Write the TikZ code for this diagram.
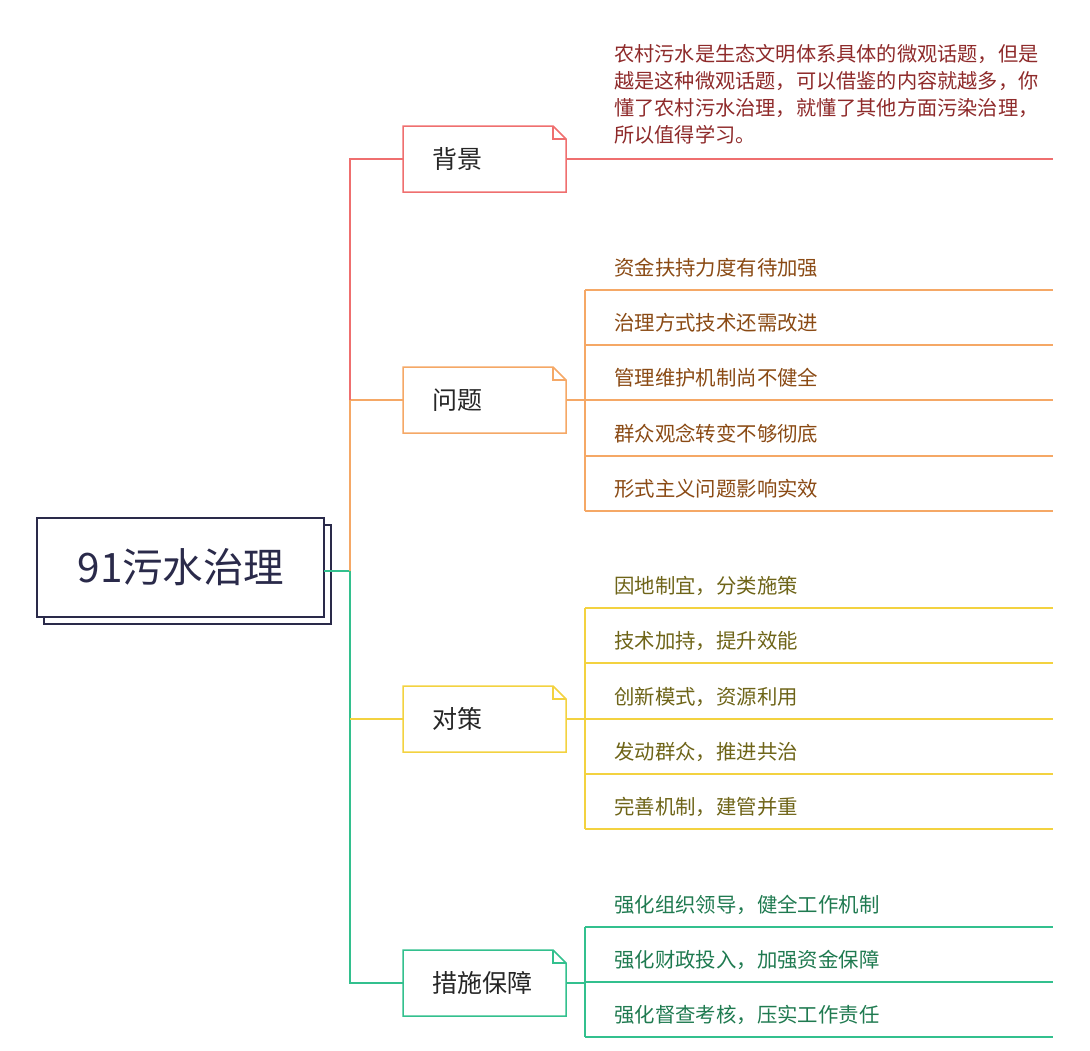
\documentclass[tikz,border=0pt]{standalone}
\usepackage{fontspec}
\setmainfont{Noto Sans CJK SC}
\usetikzlibrary{positioning}
\definecolor{redline}{HTML}{EF6F6F}
\definecolor{redtext}{HTML}{8E2A2A}
\definecolor{orangeline}{HTML}{F5A866}
\definecolor{orangetext}{HTML}{8A4A14}
\definecolor{yellowline}{HTML}{F3D240}
\definecolor{yellowtext}{HTML}{6E6418}
\definecolor{greenline}{HTML}{33C08E}
\definecolor{greentext}{HTML}{1F7A50}
\definecolor{rootline}{HTML}{2A2A4A}
\tikzset{
  leaf/.style={anchor=west, inner sep=0pt, font=\fontsize{20.4}{27}\selectfont},
  branchtext/.style={anchor=west, inner sep=0pt, font=\fontsize{25}{27}\selectfont, text=black!85},
}
% note box with folded corner: #1 colour, #2 top y, #3 name
\newcommand{\notebox}[3]{%
  \draw[#1, line width=1.5] (403,#2) -- (553,#2) -- (566,#2+13) -- (566,#2+66) -- (403,#2+66) -- cycle;
  \draw[#1, line width=1.5] (553,#2) -- (553,#2+13) -- (566,#2+13);
  \coordinate (#3w) at (403,#2+33);
  \coordinate (#3e) at (566,#2+33);
}
\begin{document}
\begin{tikzpicture}[x=1pt, y=-1pt]
  \useasboundingbox (0,0) rectangle (1090,1050);

  % Root
  \draw[rootline, line width=1.5, fill=white] (44,525) rectangle (331,624);
  \draw[rootline, line width=1.5, fill=white] (37,518) rectangle (324,617);
  \node[inner sep=0pt, font=\fontsize{40.5}{42}\selectfont, text=rootline] (root) at (181,567) {91污水治理};
  \coordinate (rootE) at (324,571);

  % Branch boxes
  \notebox{redline}{126}{bg}
  \notebox{orangeline}{367}{wt}
  \notebox{yellowline}{686}{dc}
  \notebox{greenline}{950}{cs}
  \node[branchtext] at (432,159) {背景};
  \node[branchtext] at (432,400) {问题};
  \node[branchtext] at (432,719) {对策};
  \node[branchtext] at (432,983) {措施保障};

  % Trunk
  \draw[greenline, line width=1.5] (rootE) -- (350,571) -- (350,983) -- (csw);
  \draw[orangeline, line width=1.5] (350,571) -- (350,400) -- (wtw);
  \draw[redline, line width=1.5] (350,400) -- (350,159) -- (bgw);
  \draw[yellowline, line width=1.5] (350,719) -- (dcw);

  % 背景
  \draw[redline, line width=1.5] (bge) -- (1053,159);
  \node[leaf, text=redtext, align=left, anchor=north west, font=\fontsize{20.2}{27}\selectfont] at (614,44)
    {农村污水是生态文明体系具体的微观话题，但是\\越是这种微观话题，可以借鉴的内容就越多，你\\懂了农村污水治理，就懂了其他方面污染治理，\\所以值得学习。};

  % 问题
  \draw[orangeline, line width=1.5] (wte) -- (585,400);
  \draw[orangeline, line width=1.5] (585,290) -- (585,511);
  \foreach \y/\t in {290/资金扶持力度有待加强, 345/治理方式技术还需改进, 400/管理维护机制尚不健全,
                     456/群众观念转变不够彻底, 511/形式主义问题影响实效} {
    \draw[orangeline, line width=1.5] (585,\y) -- (1053,\y);
    \node[leaf, text=orangetext] at (614,\y-22) {\t};
  }

  % 对策
  \draw[yellowline, line width=1.5] (dce) -- (585,719);
  \draw[yellowline, line width=1.5] (585,608) -- (585,829);
  \foreach \y/\t in {608/{因地制宜，分类施策}, 663/{技术加持，提升效能}, 719/{创新模式，资源利用},
                     774/{发动群众，推进共治}, 829/{完善机制，建管并重}} {
    \draw[yellowline, line width=1.5] (585,\y) -- (1053,\y);
    \node[leaf, text=yellowtext] at (614,\y-22) {\t};
  }

  % 措施保障
  \draw[greenline, line width=1.5] (cse) -- (585,983);
  \draw[greenline, line width=1.5] (585,927) -- (585,1037);
  \foreach \y/\t in {927/{强化组织领导，健全工作机制}, 982/{强化财政投入，加强资金保障},
                     1037/{强化督查考核，压实工作责任}} {
    \draw[greenline, line width=1.5] (585,\y) -- (1053,\y);
    \node[leaf, text=greentext] at (614,\y-22) {\t};
  }
\end{tikzpicture}
\end{document}
